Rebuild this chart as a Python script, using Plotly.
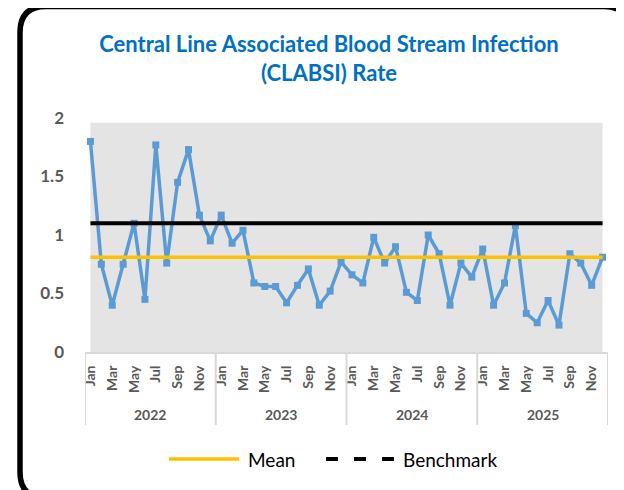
"""CLABSI rate by month, 2022-2025, with mean and benchmark lines."""
import plotly.graph_objects as go

# ---------------------------------------------------------------------------
# Data
# ---------------------------------------------------------------------------
YEARS = ["2022", "2023", "2024", "2025"]
MONTHS = ["Jan", "Feb", "Mar", "Apr", "May", "Jun",
          "Jul", "Aug", "Sep", "Oct", "Nov", "Dec"]

RATE_2022 = [1.80, 0.75, 0.40, 0.75, 1.10, 0.45, 1.77, 0.76, 1.45, 1.73, 1.17, 0.95]
RATE_2023 = [1.17, 0.93, 1.04, 0.59, 0.56, 0.56, 0.42, 0.57, 0.71, 0.40, 0.52, 0.77]
RATE_2024 = [0.66, 0.59, 0.98, 0.76, 0.90, 0.51, 0.44, 1.00, 0.84, 0.40, 0.76, 0.64]
RATE_2025 = [0.88, 0.40, 0.59, 1.08, 0.33, 0.25, 0.44, 0.23, 0.84, 0.76, 0.57, 0.81]

MEAN = 0.81
BENCHMARK = 1.10

Y_TICKS = [0, 0.5, 1, 1.5, 2]
Y_TICK_LABELS = ["0", "0.5", "1", "1.5", "2"]

rates = RATE_2022 + RATE_2023 + RATE_2024 + RATE_2025
n = len(rates)
xs = list(range(n))

# ---------------------------------------------------------------------------
# Layout geometry (pixels). The page body adds an 8px margin, so the figure
# is made 8px smaller and screen positions are shifted by OFF.
# ---------------------------------------------------------------------------
OFF = 8
W, H = 624 - OFF, 490 - OFF
ML, MR, MT, MB = 85 - OFF, 16, 118 - OFF, 138
PW, PH = W - ML - MR, H - MT - MB


def px(x):
    """screen x pixel -> paper x"""
    return (x - OFF - ML) / PW


def py(y):
    """screen y pixel -> paper y"""
    return (H - MB - (y - OFF)) / PH


FONT = "Lato"
BLUE = "#5B9BD5"
ORANGE = "#FFC000"
GREY_TXT = "#595959"

fig = go.Figure()

fig.add_trace(go.Scatter(
    x=xs, y=rates, mode="lines+markers",
    line=dict(color=BLUE, width=3.5),
    marker=dict(symbol="square", size=7, color=BLUE),
    name="Rate", showlegend=False,
))
fig.add_trace(go.Scatter(
    x=xs, y=[MEAN] * n, mode="lines",
    line=dict(color=ORANGE, width=3.5), name="Mean", showlegend=False,
))
fig.add_trace(go.Scatter(
    x=xs, y=[BENCHMARK] * n, mode="lines",
    line=dict(color="black", width=4), name="Benchmark", showlegend=False,
))

shapes = []
# grey plot area behind the series
shapes.append(dict(type="rect", xref="x", yref="y", x0=0, x1=n - 1, y0=0, y1=1.96,
                   fillcolor="#E4E4E4", line=dict(width=0), layer="below"))
# year group dividers under the category axis
for i in range(len(YEARS) + 1):
    shapes.append(dict(type="line", xref="x", yref="paper",
                       x0=i * 12 - 0.5, x1=i * 12 - 0.5, y0=0, y1=py(425),
                       line=dict(color="#D9D9D9", width=2)))

# rounded chart border
L, T, R, B, r = 20, 6.5, 630, 498, 26
path = (f"M {px(L)},{py(T + r)} Q {px(L)},{py(T)} {px(L + r)},{py(T)} "
        f"L {px(R - r)},{py(T)} Q {px(R)},{py(T)} {px(R)},{py(T + r)} "
        f"L {px(R)},{py(B - r)} Q {px(R)},{py(B)} {px(R - r)},{py(B)} "
        f"L {px(L + r)},{py(B)} Q {px(L)},{py(B)} {px(L)},{py(B - r)} Z")
shapes.append(dict(type="path", xref="paper", yref="paper", path=path,
                   line=dict(color="black", width=5.5)))

# hand-drawn legend
LEG_Y = 459
shapes.append(dict(type="line", xref="paper", yref="paper",
                   x0=px(169), x1=px(239), y0=py(LEG_Y), y1=py(LEG_Y),
                   line=dict(color=ORANGE, width=3.5)))
shapes.append(dict(type="line", xref="paper", yref="paper",
                   x0=px(326), x1=px(395), y0=py(LEG_Y), y1=py(LEG_Y),
                   line=dict(color="black", width=4, dash="12px,16px")))

annotations = []
for i, yr in enumerate(YEARS):
    annotations.append(dict(x=i * 12 + 5.5, y=py(414), xref="x", yref="paper",
                            text=f"<b>{yr}</b>", showarrow=False,
                            xanchor="center", yanchor="middle",
                            font=dict(family=FONT, size=14, color=GREY_TXT)))
annotations.append(dict(x=px(246), y=py(LEG_Y), xref="paper", yref="paper",
                        text="Mean", showarrow=False, xanchor="left", yanchor="middle",
                        font=dict(family=FONT, size=19, color="black")))
annotations.append(dict(x=px(401), y=py(LEG_Y), xref="paper", yref="paper",
                        text="Benchmark", showarrow=False, xanchor="left", yanchor="middle",
                        font=dict(family=FONT, size=19, color="black")))

fig.update_layout(
    width=W, height=H,
    margin=dict(l=ML, r=MR, t=MT, b=MB),
    paper_bgcolor="white", plot_bgcolor="white",
    showlegend=False,
    title=dict(text="<b>Central Line Associated Blood Stream Infection<br>(CLABSI) Rate</b>",
               x=(329 - OFF) / W, xanchor="center",
               y=1 - (52 - OFF) / H, yanchor="middle",
               font=dict(family=FONT, size=22, color="#0070C0")),
    shapes=shapes,
    annotations=annotations,
    xaxis=dict(range=[-0.5, n - 0.5], showgrid=False, zeroline=False,
               showline=True, linecolor="#D9D9D9", linewidth=2,
               tickvals=xs[::2], ticktext=[f"<b>{m}</b>" for m in MONTHS[::2] * len(YEARS)],
               tickangle=-90, ticks="", ticklabelstandoff=6,
               tickfont=dict(family=FONT, size=14, color=GREY_TXT)),
    yaxis=dict(range=[0, 2], showgrid=False, zeroline=False,
               tickvals=Y_TICKS, ticktext=[f"<b>{t}</b>" for t in Y_TICK_LABELS],
               ticks="", ticklabelstandoff=20,
               tickfont=dict(family=FONT, size=17, color=GREY_TXT)),
)

fig.write_html("out.html")
